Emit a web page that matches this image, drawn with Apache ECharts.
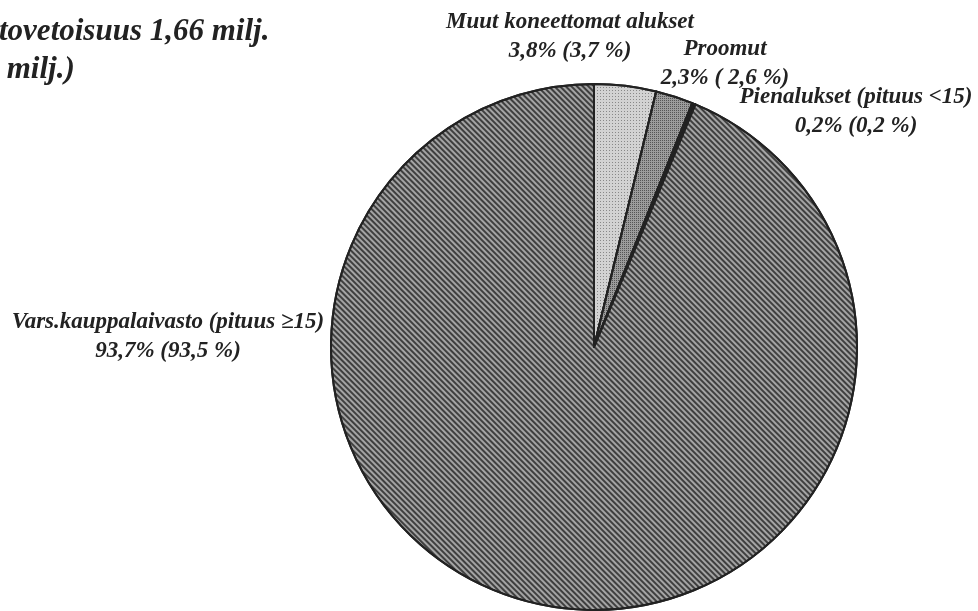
<!DOCTYPE html>
<html>
<head>
    <meta charset="utf-8" />
    <script src="https://cdn.jsdelivr.net/npm/echarts@6/dist/echarts.min.js"></script>
</head>
<body style="margin:0;background:#fff;">
    <div id="main" style="width:978px;height:611px;"></div>
    <script type="text/javascript">
        // osuudet (%), suluissa edellisen vuoden osuus
        var names = ['Muut koneettomat alukset', 'Proomut', 'Pienalukset (pituus <15)', 'Vars.kauppalaivasto (pituus \u226515)'];
        var shares = [3.8, 2.3, 0.2, 93.7];
        var prevShares = ['3,7', ' 2,6', '0,2', '93,5'];
        // label anchor points (center of the two-line label)
        var labelPos = [[570, 37], [725, 64], [856, 112], [168, 337]];

        var fills = ['#d2d2d2', '#9c9c9c', '#222', '#a4a4a4'];
        var decals = [
            { symbol: 'rect', symbolSize: 1, dashArrayX: [1, 2], dashArrayY: [1, 2], color: 'rgba(0,0,0,0.35)' },
            { symbol: 'rect', symbolSize: 1, dashArrayX: [1, 1], dashArrayY: [1, 1], color: 'rgba(0,0,0,0.45)' },
            { symbol: 'none' },
            { symbol: 'rect', symbolSize: 1, dashArrayX: [1, 0], dashArrayY: [2, 2], rotation: Math.PI / 4, color: 'rgba(20,20,20,0.7)' }
        ];

        var data = [];
        for (var i = 0; i < names.length; i++) {
            data.push({
                name: names[i],
                value: shares[i],
                itemStyle: { color: fills[i], decal: decals[i] }
            });
        }

        var myChart = echarts.init(document.getElementById('main'));
        var option = {
            animation: false,
            backgroundColor: '#fff',
            title: {
                text: 'tovetoisuus 1,66 milj.\n milj.)',
                left: -6,
                top: 8,
                textStyle: {
                    fontFamily: 'Liberation Serif',
                    fontStyle: 'italic',
                    fontWeight: 'bold',
                    fontSize: 31,
                    lineHeight: 38,
                    color: '#222'
                }
            },
            series: [{
                type: 'pie',
                center: [594, 347],
                radius: 263,
                startAngle: 90,
                clockwise: true,
                data: data,
                itemStyle: { borderColor: '#222', borderWidth: 2 },
                labelLine: { show: false },
                label: {
                    show: true,
                    position: 'outside',
                    fontFamily: 'Liberation Serif',
                    fontStyle: 'italic',
                    fontWeight: 'bold',
                    fontSize: 23,
                    lineHeight: 29,
                    color: '#222',
                    align: 'center',
                    overflow: 'none',
                    width: 400,
                    formatter: function (p) {
                        var v = String(shares[p.dataIndex]).replace('.', ',');
                        return p.name + '\n' + v + '% (' + prevShares[p.dataIndex] + ' %)';
                    }
                },
                labelLayout: function (params) {
                    var pos = labelPos[params.dataIndex];
                    return { x: pos[0], y: pos[1], align: 'center', verticalAlign: 'middle' };
                }
            }]
        };
        myChart.setOption(option);
    </script>
</body>
</html>
